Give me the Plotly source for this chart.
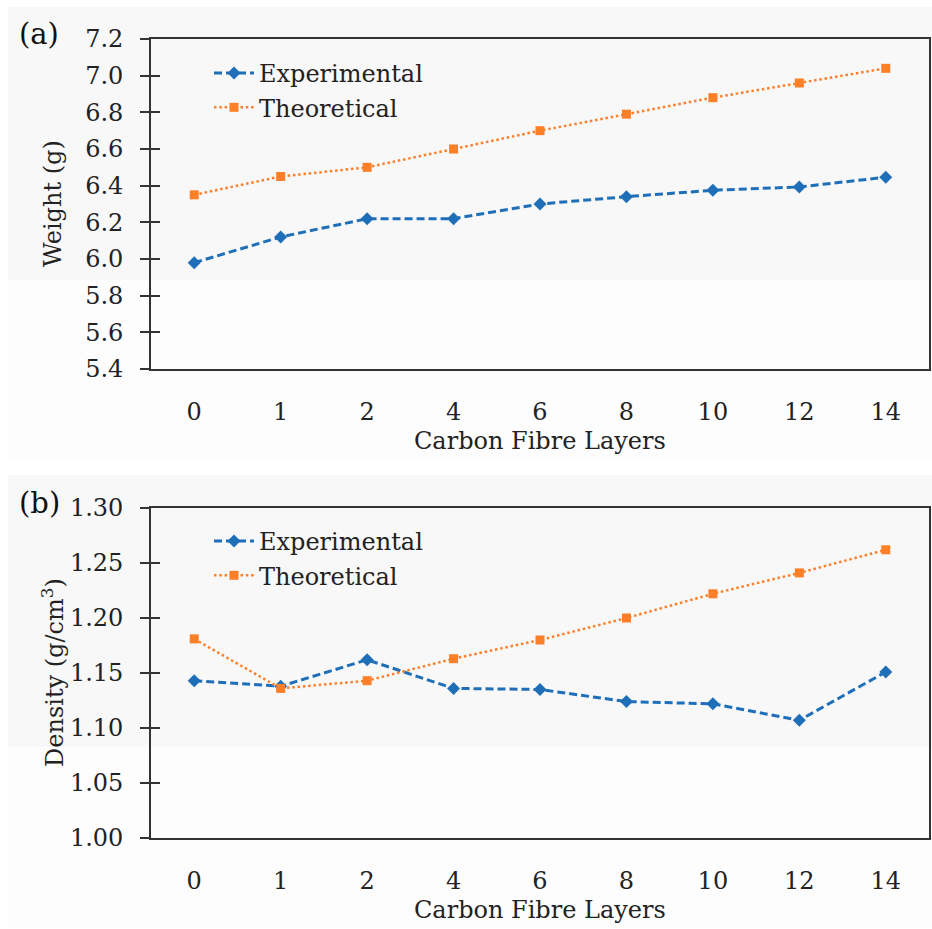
import plotly.graph_objects as go

layers = ["0", "1", "2", "4", "6", "8", "10", "12", "14"]
weight_exp = [5.98, 6.12, 6.22, 6.22, 6.30, 6.34, 6.375, 6.393, 6.446]
weight_theo = [6.35, 6.45, 6.50, 6.60, 6.70, 6.79, 6.88, 6.96, 7.04]
density_exp = [1.143, 1.138, 1.162, 1.136, 1.135, 1.124, 1.122, 1.107, 1.151]
density_theo = [1.181, 1.136, 1.143, 1.163, 1.180, 1.200, 1.222, 1.241, 1.262]
weight_ticks = [5.4, 5.6, 5.8, 6.0, 6.2, 6.4, 6.6, 6.8, 7.0, 7.2]
density_ticks = [1.00, 1.05, 1.10, 1.15, 1.20, 1.25, 1.30]

W, H = 932, 929
FONT = "DejaVu Serif"
FS = 24
BLUE = "#1f6fb8"
ORANGE = "#fd7f28"
AXC = "#333333"
TXT = "#222222"

def px_x(p):
    return p / W

def px_y(p):
    return 1 - p / H

exp_line = dict(color=BLUE, width=3, dash="8px,4px")
theo_line = dict(color=ORANGE, width=2.5, dash="2.5px,2.8px")
exp_marker = dict(symbol="diamond", size=10, color=BLUE)
theo_marker = dict(symbol="square", size=9, color=ORANGE)

fig = go.Figure()
# panel a
fig.add_trace(go.Scatter(x=layers, y=weight_exp, name="Experimental", mode="lines+markers",
                         line=exp_line, marker=exp_marker, xaxis="x", yaxis="y", legend="legend"))
fig.add_trace(go.Scatter(x=layers, y=weight_theo, name="Theoretical", mode="lines+markers",
                         line=theo_line, marker=theo_marker, xaxis="x", yaxis="y", legend="legend"))
# panel b
fig.add_trace(go.Scatter(x=layers, y=density_exp, name="Experimental", mode="lines+markers",
                         line=exp_line, marker=exp_marker, xaxis="x2", yaxis="y2", legend="legend2"))
fig.add_trace(go.Scatter(x=layers, y=density_theo, name="Theoretical", mode="lines+markers",
                         line=theo_line, marker=theo_marker, xaxis="x2", yaxis="y2", legend="legend2"))
# invisible carriers for the inner half of the crossing y ticks
fig.add_trace(go.Scatter(x=[layers[0]], y=[weight_exp[0]], mode="markers", marker=dict(opacity=0),
                         showlegend=False, hoverinfo="skip", xaxis="x", yaxis="y3"))
fig.add_trace(go.Scatter(x=[layers[0]], y=[density_exp[0]], mode="markers", marker=dict(opacity=0),
                         showlegend=False, hoverinfo="skip", xaxis="x2", yaxis="y4"))

x0p, x1p = 151, 929
a_top, a_bot = 39, 369
b_top, b_bot = 508, 838

xcommon = dict(type="category", categoryorder="array", categoryarray=layers,
               range=[-0.5, len(layers) - 0.5], showline=True, linecolor=AXC, linewidth=1.6,
               mirror=True, ticks="", showgrid=False, zeroline=False, automargin=False,
               tickfont=dict(family=FONT, size=FS, color=TXT), ticklabelstandoff=20,
               domain=[px_x(x0p), px_x(x1p)])
ycommon = dict(showline=True, linecolor=AXC, linewidth=1.6, mirror=True, ticks="outside",
               ticklen=9, tickwidth=1.6, tickcolor=AXC, showgrid=False, zeroline=False,
               automargin=False,
               tickfont=dict(family=FONT, size=FS, color=TXT), ticklabelstandoff=12)
yinner = dict(showline=False, ticks="inside", ticklen=9, tickwidth=1.6, tickcolor=AXC,
              showgrid=False, zeroline=False, showticklabels=False, automargin=False, side="left")

legcommon = dict(xanchor="left", yanchor="top", bgcolor="rgba(0,0,0,0)",
                 font=dict(family=FONT, size=FS, color=TXT), tracegroupgap=0, itemwidth=40)

fig.update_layout(
    width=W, height=H, margin=dict(l=0, r=0, t=0, b=0, autoexpand=False),
    paper_bgcolor="white", plot_bgcolor="rgba(0,0,0,0)",
    xaxis=dict(**xcommon, anchor="y"),
    yaxis=dict(**ycommon, range=[5.4, 7.2], tickvals=weight_ticks,
               ticktext=[f"{v:.1f}" for v in weight_ticks],
               domain=[px_y(a_bot), px_y(a_top)], anchor="x"),
    yaxis3=dict(**yinner, range=[5.4, 7.2], tickvals=weight_ticks, overlaying="y", anchor="x"),
    xaxis2=dict(**xcommon, anchor="y2"),
    yaxis2=dict(**ycommon, range=[1.0, 1.3], tickvals=density_ticks,
                ticktext=[f"{v:.2f}" for v in density_ticks],
                domain=[px_y(b_bot), px_y(b_top)], anchor="x2"),
    yaxis4=dict(**yinner, range=[1.0, 1.3], tickvals=density_ticks, overlaying="y2", anchor="x2"),
    legend=dict(x=px_x(209), y=px_y(51), **legcommon),
    legend2=dict(x=px_x(209), y=px_y(519), **legcommon),
    showlegend=True,
)

shapes = []
# background scan tones
for (t, b) in [(7, 461), (475, 928)]:
    shapes.append(dict(type="rect", xref="paper", yref="paper", x0=px_x(8), x1=1, y0=px_y(b), y1=px_y(t),
                       fillcolor="#fdfdfd", line=dict(width=0), layer="below"))
for (t, b) in [(7, 280), (475, 747)]:
    shapes.append(dict(type="rect", xref="paper", yref="paper", x0=px_x(8), x1=1, y0=px_y(b), y1=px_y(t),
                       fillcolor="#f8f8f8", line=dict(width=0), layer="below"))
fig.update_layout(shapes=shapes)

ann = []
ann.append(dict(text="Weight (g)", x=px_x(53), y=px_y((a_top + a_bot) / 2), xref="paper", yref="paper",
                textangle=-90, showarrow=False, font=dict(family=FONT, size=FS, color=TXT),
                xanchor="center", yanchor="middle"))
ann.append(dict(text="Density (g/cm<sup>3</sup>)", x=px_x(53), y=px_y((b_top + b_bot) / 2), xref="paper", yref="paper",
                textangle=-90, showarrow=False, font=dict(family=FONT, size=FS, color=TXT),
                xanchor="center", yanchor="middle"))
for yc in [441, 910]:
    ann.append(dict(text="Carbon Fibre Layers", x=px_x((x0p + x1p) / 2), y=px_y(yc), xref="paper", yref="paper",
                    showarrow=False, font=dict(family=FONT, size=FS, color=TXT),
                    xanchor="center", yanchor="middle"))
ann.append(dict(text="(a)", x=px_x(17), y=px_y(34), xref="paper", yref="paper", showarrow=False,
                font=dict(family=FONT, size=29, color="#111"), xanchor="left", yanchor="middle"))
ann.append(dict(text="(b)", x=px_x(17), y=px_y(503), xref="paper", yref="paper", showarrow=False,
                font=dict(family=FONT, size=29, color="#111"), xanchor="left", yanchor="middle"))
fig.update_layout(annotations=ann)

fig.write_html("out.html")
